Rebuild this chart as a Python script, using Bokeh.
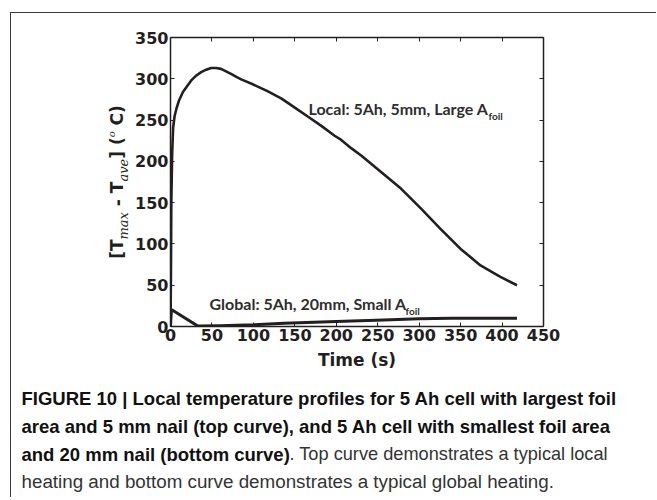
import numpy as np
from bokeh.plotting import figure
from bokeh.layouts import column, row
from bokeh.models import Range1d, LinearAxis, FixedTicker, Label
from bokeh.embed import file_html
from bokeh.resources import INLINE

# ---------------- data ----------------
time_local = [0, 0.5, 1, 2, 3.2, 5, 7.2, 10, 15, 20, 25, 30, 37, 43, 49, 55, 61, 67, 73,
              80, 86, 100, 117, 134, 150, 166, 182, 198, 206, 218, 230, 254, 278, 302,
              326, 350, 374, 398, 418]
temp_local = [0, 60, 150, 210, 241, 255, 264, 273, 284, 291, 298, 303, 308, 311, 313, 313,
              312, 309, 306, 302, 299, 293, 285, 276, 265, 254, 243, 231, 226, 216, 207,
              187, 167, 143, 118, 94, 74, 60, 50]

time_global = [0, 1, 2, 33, 60, 100, 137, 200, 257, 300, 338, 380, 418]
temp_global = [0, 18, 20, 0.5, 1, 2, 4, 6, 8, 9.5, 10, 10, 10]

x_ticks = [0, 50, 100, 150, 200, 250, 300, 350, 400, 450]
y_ticks = [0, 50, 100, 150, 200, 250, 300, 350]

label_local = "Local: 5Ah, 5mm, Large A"
label_global = "Global: 5Ah, 20mm, Small A"
label_sub = "foil"
x_title = "Time (s)"

caption_lines = [
    [("FIGURE 10 | Local temperature profiles for 5 Ah cell with largest foil", "bold")],
    [("area and 5 mm nail (top curve), and 5 Ah cell with smallest foil area", "bold")],
    [("and 20 mm nail (bottom curve)", "bold"), (". Top curve demonstrates a typical local", "normal")],
    [("heating and bottom curve demonstrates a typical global heating.", "normal")],
]

# ---------------- layout (page pixel geometry) ----------------
INK = "#231f20"
OX, OY = 11, 13            # content origin on page (inside the grey frame)
YW = 121                   # width of the y-title strip
MW, MH = 524, 372          # main figure size
CH = 112                   # caption strip height
FL, FR, FT, FB = 169, 543, 37, 326   # plot frame on page

main_x0 = OX + YW
p = figure(width=MW, height=MH, output_backend="svg", toolbar_location=None,
           x_range=Range1d(0, 450), y_range=Range1d(0, 350),
           x_axis_location=None, y_axis_location=None,
           min_border_left=FL - main_x0, min_border_right=main_x0 + MW - FR,
           min_border_top=FT - OY, min_border_bottom=OY + MH - FB)
p.outline_line_color = None
p.xgrid.visible = False
p.ygrid.visible = False


def make_axis(ticks, show_labels):
    ax = LinearAxis(ticker=FixedTicker(ticks=ticks))
    ax.axis_line_color = INK
    ax.axis_line_width = 1.5
    ax.major_tick_in = 4
    ax.major_tick_out = 0
    ax.major_tick_line_color = INK
    ax.major_tick_line_width = 1
    ax.minor_tick_line_color = None
    ax.major_label_text_font = "DejaVu Sans"
    ax.major_label_text_font_style = "bold"
    ax.major_label_text_color = INK
    ax.major_label_text_font_size = "16px"
    if not show_labels:
        ax.major_label_overrides = {t: "" for t in ticks}
        ax.major_label_text_color = None
        ax.major_label_standoff = 0
    return ax


bottom = make_axis(x_ticks, True)
bottom.major_label_standoff = 2
bottom.axis_label = x_title
bottom.axis_label_text_font = "DejaVu Sans"
bottom.axis_label_text_font_style = "bold"
bottom.axis_label_text_font_size = "17px"
bottom.axis_label_text_color = INK
bottom.axis_label_standoff = 6
left = make_axis(y_ticks, True)
left.major_label_standoff = 2
top = make_axis(x_ticks, False)
right = make_axis(y_ticks, False)
p.add_layout(bottom, "below")
p.add_layout(left, "left")
p.add_layout(top, "above")
p.add_layout(right, "right")

p.line(time_local, temp_local, line_color=INK, line_width=2.6, line_join="round")
p.line(time_global, temp_global, line_color=INK, line_width=3, line_join="round")


def blank_fig(w, h):
    f = figure(width=w, height=h, output_backend="svg", toolbar_location=None,
               x_range=Range1d(0, 1), y_range=Range1d(0, 1),
               x_axis_location=None, y_axis_location=None, min_border=0)
    f.outline_line_color = None
    f.xgrid.visible = False
    f.ygrid.visible = False
    return f


ylab_fig = blank_fig(YW, MH)
cap_fig = blank_fig(YW + MW, CH)


def add_text(fig, origin, px, py, text, font, size, style="normal", color=INK, angle=0.0):
    # (px, py): page position of the text start, vertically at the text's middle
    fig.add_layout(Label(x=px - origin[0], y=py - origin[1], x_units="canvas", y_units="canvas",
                         text=text, text_font=font, text_font_size=size,
                         text_font_style=style, text_color=color, angle=angle,
                         text_align="left", text_baseline="middle"))


MO = (main_x0, OY)
add_text(p, MO, 308, 108, label_local, "Lato", "16px", "bold", "#2e2e2e")
add_text(p, MO, 488, 115, label_sub, "Lato", "10px", "bold", "#2e2e2e")
add_text(p, MO, 209, 303, label_global, "Lato", "16px", "bold", "#2e2e2e")
add_text(p, MO, 405, 310, label_sub, "Lato", "10px", "bold", "#2e2e2e")

# rotated y-axis title, built from pieces (spaces only advance the pen)
adv_main = {"[": 0.457, "T": 0.682, " ": 0.348, "-": 0.415, "]": 0.457,
            "(": 0.457, "C": 0.734, ")": 0.457}
adv_it = {"m": 0.949, "a": 0.596, "x": 0.565, "v": 0.565, "e": 0.592, "o": 0.602}
ylab_parts = [("[", "main"), ("T", "main"), ("max", "sub"), (" ", "main"), ("-", "main"),
              (" ", "main"), ("T", "main"), ("ave", "sub"), ("]", "main"), (" ", "main"),
              ("(", "main"), ("o", "sup"), (" ", "main"), ("C", "main"), (")", "main")]
kinds = {"main": ("DejaVu Sans", 17, "bold", 116.5, adv_main),
         "sub": ("DejaVu Serif", 13, "italic", 123, adv_it),
         "sup": ("DejaVu Serif", 10, "italic", 111, adv_it)}
lengths = []
for txt, k in ylab_parts:
    font, size, style, bx, adv = kinds[k]
    lengths.append(sum(adv[c] for c in txt) * size)
pos = (FT + FB) / 2 + sum(lengths) / 2
YO = (OX, OY)
for (txt, k), ln in zip(ylab_parts, lengths):
    font, size, style, bx, adv = kinds[k]
    if txt.strip():
        add_text(ylab_fig, YO, bx, pos, txt, font, f"{size}px", style, INK, np.pi / 2)
    pos -= ln

# caption
CO = (OX, OY + MH)
cap_x0 = 21
cap_mid = [398, 426, 453.5, 481]
part_start = {2: 289}
for i, (line, mid) in enumerate(zip(caption_lines, cap_mid)):
    for j, (txt, st) in enumerate(line):
        x = cap_x0 if j == 0 else part_start[i]
        if st == "bold":
            add_text(cap_fig, CO, x, mid, txt, "Liberation Sans", "18.5px", "bold", "#111111")
        else:
            size = "18.2px" if j > 0 else "18.8px"
            add_text(cap_fig, CO, x, mid, txt, "Liberation Sans", size, "normal", "#333333")

layout = column(row(ylab_fig, p, spacing=0), cap_fig, spacing=0)
layout.styles = {"border-left": "1px solid #3c3c3c", "border-top": "1px solid #3c3c3c",
                 "margin-left": "10px", "margin-top": "12px"}

open("out.html", "w").write(file_html(layout, INLINE))
